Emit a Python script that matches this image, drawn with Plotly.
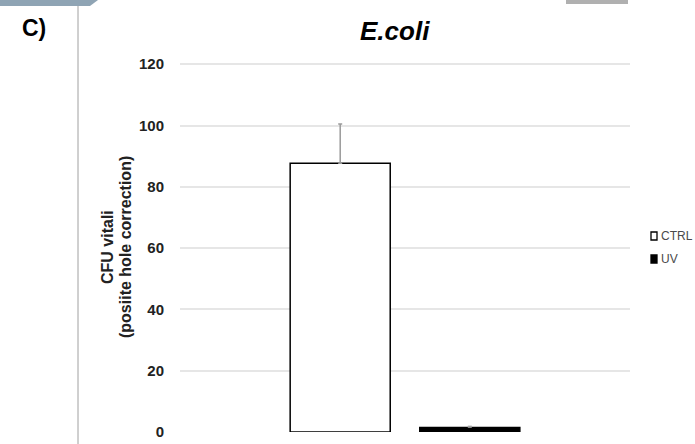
import plotly.graph_objects as go

# ---- data ----
categories = ["E.coli"]
series_names = ["CTRL", "UV"]
ctrl_values = [87.7]
uv_values = [1.5]
ctrl_err = [12.8]
uv_err = [0.4]
y_ticks = [0, 20, 40, 60, 80, 100, 120]
y_title_lines = ["CFU vitali", "(posiite hole correction)"]

W, H = 695, 444
ML, MR, MT, MB = 180, 65, 63, 12
PW, PH = W - ML - MR, H - MT - MB


def px_x(x):
    return (x - ML) / PW


def px_y(y):
    return (H - MB - y) / PH


fig = go.Figure()
fig.add_trace(go.Bar(
    x=categories, y=ctrl_values, name=series_names[0],
    marker=dict(color="white", line=dict(color="black", width=1.5)),
    error_y=dict(type="data", symmetric=False, array=ctrl_err, arrayminus=[0],
                 color="#9a9a9a", thickness=1.5, width=2),
    showlegend=False,
))
fig.add_trace(go.Bar(
    x=categories, y=uv_values, name=series_names[1],
    marker=dict(color="black", line=dict(color="black", width=1.5)),
    error_y=dict(type="data", symmetric=False, array=uv_err, arrayminus=[0],
                 color="#9a9a9a", thickness=1, width=2),
    showlegend=False,
))

font = "Liberation Sans, Arial, sans-serif"

# custom compact legend
legend_items = [(series_names[0], "white", 236), (series_names[1], "black", 259)]
shapes = []
annotations = []
for name, col, ypx in legend_items:
    shapes.append(dict(type="rect", xref="paper", yref="paper",
                       x0=px_x(651), x1=px_x(657), y0=px_y(ypx + 4), y1=px_y(ypx - 4),
                       fillcolor=col, line=dict(color="black", width=1.3)))
    annotations.append(dict(x=px_x(659), y=px_y(ypx), xref="paper", yref="paper",
                            text=name, showarrow=False, xanchor="left", yanchor="middle",
                            font=dict(family=font, size=12, color="#4a4a4a")))

# y-axis title (two rotated lines)
for line, xpx in zip(y_title_lines, [107, 125]):
    annotations.append(dict(x=px_x(xpx), y=px_y(247), xref="paper", yref="paper",
                            text=f"<b>{line}</b>", textangle=-90, showarrow=False,
                            xanchor="center", yanchor="middle",
                            font=dict(family=font, size=16, color="#222222")))

# panel decorations
shapes.append(dict(type="line", xref="paper", yref="paper",
                   x0=px_x(78), x1=px_x(78), y0=px_y(0), y1=px_y(H),
                   line=dict(color="#a0a0a0", width=1)))
shapes.append(dict(type="path", xref="paper", yref="paper",
                   path=f"M {px_x(0)},{px_y(0)} L {px_x(98)},{px_y(0)} L {px_x(90)},{px_y(6)} L {px_x(0)},{px_y(6)} Z",
                   fillcolor="#8fa4b4", line=dict(width=0)))
shapes.append(dict(type="rect", xref="paper", yref="paper",
                   x0=px_x(566), x1=px_x(628), y0=px_y(4), y1=px_y(0),
                   fillcolor="#b0b0b0", line=dict(width=0)))

annotations.append(dict(x=px_x(34), y=px_y(28), xref="paper", yref="paper",
                        text="<b>C)</b>", showarrow=False, xanchor="center", yanchor="middle",
                        font=dict(family=font, size=23, color="black")))
annotations.append(dict(x=px_x(395), y=px_y(31), xref="paper", yref="paper",
                        text="<b><i>E.coli</i></b>", showarrow=False, xanchor="center", yanchor="middle",
                        font=dict(family=font, size=26, color="black")))

fig.update_layout(
    width=W, height=H,
    margin=dict(l=ML, r=MR, t=MT, b=MB, autoexpand=False),
    paper_bgcolor="white", plot_bgcolor="white",
    barmode="group", bargap=0.424, bargroupgap=0.228,
    showlegend=False,
    font=dict(family=font, color="black"),
    shapes=shapes, annotations=annotations,
    xaxis=dict(showticklabels=False, showgrid=False, showline=False, zeroline=False,
               automargin=False),
    yaxis=dict(range=[0, 120.4], tickvals=y_ticks, ticktext=[f"<b>{t}</b>" for t in y_ticks],
               showgrid=True, gridcolor="#e6e6e6", gridwidth=1.5, zeroline=False,
               showline=False, ticks="", ticklabelstandoff=15, automargin=False,
               tickfont=dict(family=font, size=15, color="#222222")),
)

fig.write_html("out.html", config={"displayModeBar": False},
               post_script="document.body.style.margin='0';document.body.style.overflow='hidden';")
